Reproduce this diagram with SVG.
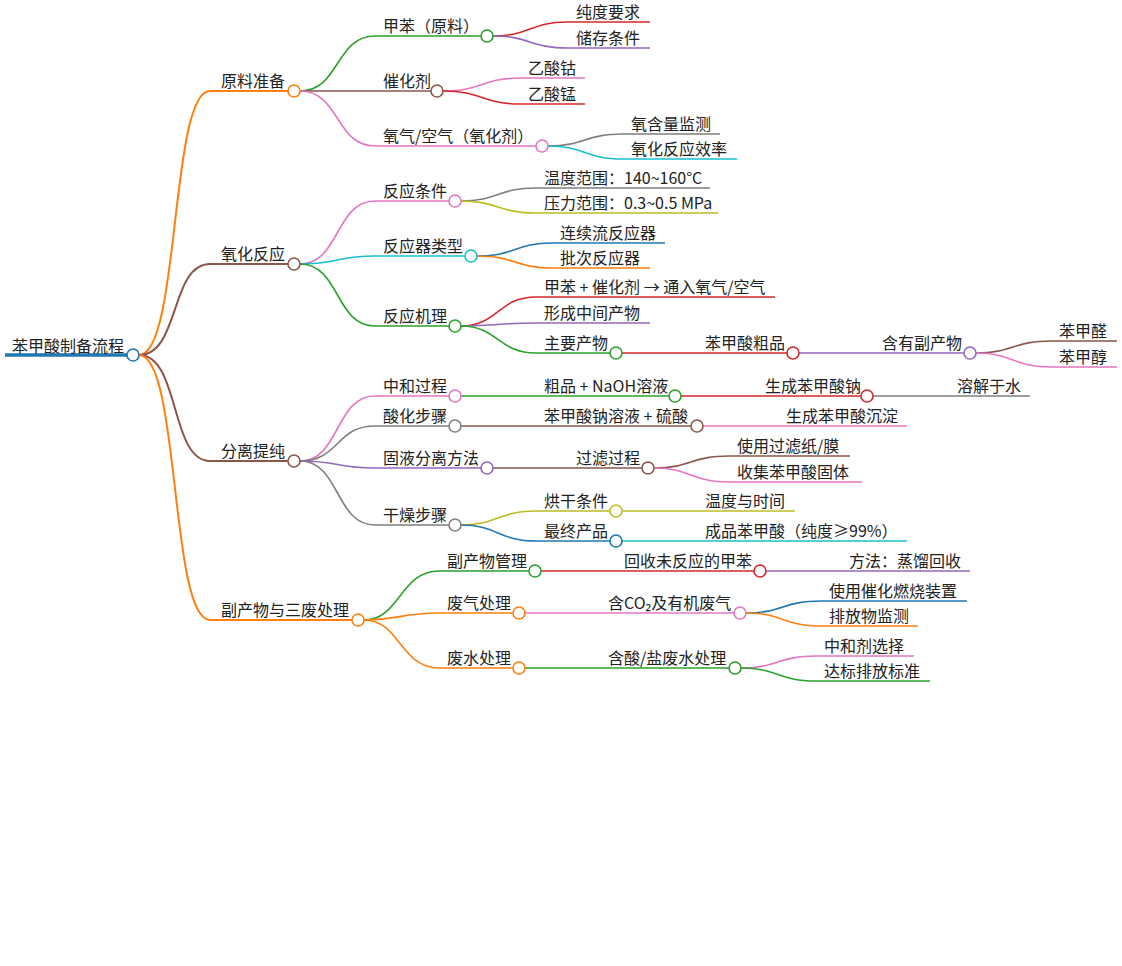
<svg xmlns="http://www.w3.org/2000/svg" width="1122" height="966" viewBox="0 0 1122 966">
<style>
text{font-family:"Noto Sans CJK SC","Noto Sans",sans-serif;font-size:16px;fill:#222}
path{fill:none;stroke-width:1.6}
circle{fill:#fff;stroke-width:1.6}
.or{stroke:#ff7f0e}.br{stroke:#8c564b}.gn{stroke:#2ca02c}.rd{stroke:#d62728}.pu{stroke:#9467bd}.pk{stroke:#e377c2}.gy{stroke:#7f7f7f}.cy{stroke:#17becf}.ol{stroke:#bcbd22}.bl{stroke:#1f77b4}
</style>
<rect width="1122" height="966" fill="#fff"/>
<g id="connectors">
<path class="bl" style="stroke-width:3.5" d="M5 355H127"/>
<path class="or" style="stroke-width:2" d="M139 355C180 355 170 91 210 91H288"/>
<path class="br" style="stroke-width:2" d="M139 355C180 355 170 264 210 264H288"/>
<path class="br" style="stroke-width:2" d="M139 355C180 355 170 461 210 461H288"/>
<path class="or" style="stroke-width:2" d="M139 355C180 355 170 620 210 620H352"/>
<path class="gn" d="M300 91C340 91 335 36 375 36H481"/>
<path class="br" d="M300 91C340 91 335 91 375 91H431"/>
<path class="pk" d="M300 91C340 91 335 146 375 146H536"/>
<path class="rd" d="M493 36C530 36 530 22 568 22H650"/>
<path class="pu" d="M493 36C530 36 530 48 568 48H650"/>
<path class="pk" d="M443 91C482 91 482 78 520 78H585"/>
<path class="rd" d="M443 91C482 91 482 104 520 104H585"/>
<path class="gy" d="M548 146C585 146 585 134 623 134H720"/>
<path class="cy" d="M548 146C585 146 585 159 623 159H737"/>
<path class="pk" d="M300 264C340 264 335 201 375 201H449"/>
<path class="cy" d="M300 264C340 264 335 256 375 256H465"/>
<path class="gn" d="M300 264C340 264 335 326 375 326H449"/>
<path class="gy" d="M461 201C498 201 498 188 536 188H710"/>
<path class="ol" d="M461 201C498 201 498 213 536 213H718"/>
<path class="bl" d="M477 256C515 256 515 243 552 243H665"/>
<path class="or" d="M477 256C515 256 515 268 552 268H650"/>
<path class="rd" d="M461 326C498 326 498 297 536 297H775"/>
<path class="pu" d="M461 326C498 326 498 323 536 323H650"/>
<path class="gn" d="M461 326C498 326 498 353 536 353H610"/>
<path class="rd" d="M622 353H787"/>
<path class="pu" d="M799 353H964"/>
<path class="br" d="M976 353C1013 353 1013 341 1051 341H1117"/>
<path class="pk" d="M976 353C1013 353 1013 367 1051 367H1117"/>
<path class="pk" d="M300 461C340 461 335 396 375 396H449"/>
<path class="gy" d="M300 461C340 461 335 426 375 426H449"/>
<path class="pu" d="M300 461C340 461 335 468 375 468H481"/>
<path class="gy" d="M300 461C340 461 335 525 375 525H449"/>
<path class="gn" d="M461 396H669"/>
<path class="rd" d="M681 396H861"/>
<path class="gy" d="M873 396H1030"/>
<path class="br" d="M461 426H691"/>
<path class="pk" d="M703 426H907"/>
<path class="br" d="M493 468H642"/>
<path class="br" d="M654 468C691 468 691 456 729 456H850"/>
<path class="pk" d="M654 468C691 468 691 482 729 482H862"/>
<path class="ol" d="M461 525C498 525 498 511 536 511H610"/>
<path class="bl" d="M461 525C498 525 498 541 536 541H610"/>
<path class="ol" d="M622 511H795"/>
<path class="cy" d="M622 541H907"/>
<path class="gn" d="M364 620C400 620 400 571 439 571H529"/>
<path class="or" d="M364 620C400 620 400 613 439 613H513"/>
<path class="or" d="M364 620C400 620 400 668 439 668H513"/>
<path class="rd" d="M541 571H754"/>
<path class="pu" d="M766 571H970"/>
<path class="pk" d="M525 613H734"/>
<path class="bl" d="M746 613C783 613 783 601 821 601H967"/>
<path class="or" d="M746 613C783 613 783 626 821 626H918"/>
<path class="gn" d="M525 668H729"/>
<path class="pk" d="M741 668C778 668 778 656 816 656H914"/>
<path class="gn" d="M741 668C778 668 778 681 816 681H930"/>
</g>
<g id="root"><text x="12" y="352">苯甲酸制备流程</text><circle class="bl" cx="133" cy="355" r="6"/></g>
<g id="n1"><text x="221" y="87">原料准备</text><circle class="or" cx="294" cy="91" r="6"/></g>
<g id="n2"><text x="221" y="260">氧化反应</text><circle class="br" cx="294" cy="264" r="6"/></g>
<g id="n3"><text x="221" y="457">分离提纯</text><circle class="br" cx="294" cy="461" r="6"/></g>
<g id="n4"><text x="221" y="616">副产物与三废处理</text><circle class="or" cx="358" cy="620" r="6"/></g>
<g id="n11"><text x="383" y="32">甲苯（原料）</text><circle class="gn" cx="487" cy="36" r="6"/></g>
<g id="n12"><text x="383" y="87">催化剂</text><circle class="br" cx="437" cy="91" r="6"/></g>
<g id="n13"><text x="383" y="142">氧气/空气（氧化剂）</text><circle class="pk" cx="542" cy="146" r="6"/></g>
<g id="n111"><text x="576" y="18">纯度要求</text></g>
<g id="n112"><text x="576" y="44">储存条件</text></g>
<g id="n121"><text x="528" y="74">乙酸钴</text></g>
<g id="n122"><text x="528" y="100">乙酸锰</text></g>
<g id="n131"><text x="631" y="130">氧含量监测</text></g>
<g id="n132"><text x="631" y="155">氧化反应效率</text></g>
<g id="n21"><text x="383" y="197">反应条件</text><circle class="pk" cx="455" cy="201" r="6"/></g>
<g id="n22"><text x="383" y="252">反应器类型</text><circle class="cy" cx="471" cy="256" r="6"/></g>
<g id="n23"><text x="383" y="322">反应机理</text><circle class="gn" cx="455" cy="326" r="6"/></g>
<g id="n211"><text x="544" y="184">温度范围：140~160°C</text></g>
<g id="n212"><text x="544" y="209">压力范围：0.3~0.5 MPa</text></g>
<g id="n221"><text x="560" y="239">连续流反应器</text></g>
<g id="n222"><text x="560" y="264">批次反应器</text></g>
<g id="n231"><text x="544" y="293">甲苯 + 催化剂 → 通入氧气/空气</text></g>
<g id="n232"><text x="544" y="319">形成中间产物</text></g>
<g id="n233"><text x="544" y="349">主要产物</text><circle class="gn" cx="616" cy="353" r="6"/></g>
<g id="n2331"><text x="705" y="349">苯甲酸粗品</text><circle class="rd" cx="793" cy="353" r="6"/></g>
<g id="n2332"><text x="882" y="349">含有副产物</text><circle class="pu" cx="970" cy="353" r="6"/></g>
<g id="n2333"><text x="1059" y="337">苯甲醛</text></g>
<g id="n2334"><text x="1059" y="363">苯甲醇</text></g>
<g id="n31"><text x="383" y="392">中和过程</text><circle class="pk" cx="455" cy="396" r="6"/></g>
<g id="n32"><text x="383" y="422">酸化步骤</text><circle class="gy" cx="455" cy="426" r="6"/></g>
<g id="n33"><text x="383" y="464">固液分离方法</text><circle class="pu" cx="487" cy="468" r="6"/></g>
<g id="n34"><text x="383" y="521">干燥步骤</text><circle class="gy" cx="455" cy="525" r="6"/></g>
<g id="n311"><text x="544" y="392">粗品 + NaOH溶液</text><circle class="gn" cx="675" cy="396" r="6"/></g>
<g id="n312"><text x="765" y="392">生成苯甲酸钠</text><circle class="rd" cx="867" cy="396" r="6"/></g>
<g id="n313"><text x="957" y="392">溶解于水</text></g>
<g id="n321"><text x="544" y="422">苯甲酸钠溶液 + 硫酸</text><circle class="br" cx="697" cy="426" r="6"/></g>
<g id="n322"><text x="786" y="422">生成苯甲酸沉淀</text></g>
<g id="n331"><text x="576" y="464">过滤过程</text><circle class="br" cx="648" cy="468" r="6"/></g>
<g id="n332"><text x="737" y="452">使用过滤纸/膜</text></g>
<g id="n333"><text x="737" y="478">收集苯甲酸固体</text></g>
<g id="n341"><text x="544" y="507">烘干条件</text><circle class="ol" cx="616" cy="511" r="6"/></g>
<g id="n342"><text x="705" y="507">温度与时间</text></g>
<g id="n343"><text x="544" y="537">最终产品</text><circle class="bl" cx="616" cy="541" r="6"/></g>
<g id="n344"><text x="705" y="537">成品苯甲酸（纯度≥99%）</text></g>
<g id="n41"><text x="447" y="567">副产物管理</text><circle class="gn" cx="535" cy="571" r="6"/></g>
<g id="n42"><text x="447" y="609">废气处理</text><circle class="or" cx="519" cy="613" r="6"/></g>
<g id="n43"><text x="447" y="664">废水处理</text><circle class="or" cx="519" cy="668" r="6"/></g>
<g id="n411"><text x="624" y="567">回收未反应的甲苯</text><circle class="rd" cx="760" cy="571" r="6"/></g>
<g id="n412"><text x="849" y="567">方法：蒸馏回收</text></g>
<g id="n421"><text x="608" y="609">含CO₂及有机废气</text><circle class="pk" cx="740" cy="613" r="6"/></g>
<g id="n422"><text x="829" y="597">使用催化燃烧装置</text></g>
<g id="n423"><text x="829" y="622">排放物监测</text></g>
<g id="n431"><text x="608" y="664">含酸/盐废水处理</text><circle class="gn" cx="735" cy="668" r="6"/></g>
<g id="n432"><text x="824" y="652">中和剂选择</text></g>
<g id="n433"><text x="824" y="677">达标排放标准</text></g>
</svg>
